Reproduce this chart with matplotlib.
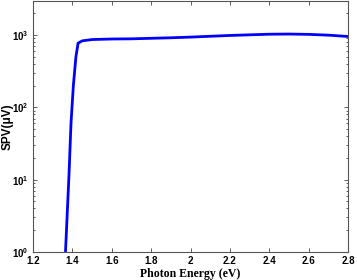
import matplotlib
matplotlib.use("Agg")
import matplotlib.pyplot as plt
from matplotlib.ticker import LogLocator, NullFormatter

energy = [1.365, 1.373, 1.383, 1.393, 1.405, 1.418, 1.429, 1.45, 1.5, 1.6, 1.7, 1.8, 1.9, 2.0, 2.1, 2.2, 2.3, 2.4, 2.5, 2.6, 2.7, 2.8]
spv = [1.0, 3.0, 12.0, 60.0, 200.0, 500.0, 771.0, 830.0, 865.0, 880.0, 885.0, 900.0, 915.0, 935.0, 960.0, 985.0, 1005.0, 1025.0, 1030.0, 1020.0, 995.0, 953.0]
xticks = [1.2, 1.4, 1.6, 1.8, 2, 2.2, 2.4, 2.6, 2.8]
xtick_labels = ["1.2", "1.4", "1.6", "1.8", "2", "2.2", "2.4", "2.6", "2.8"]

fig = plt.figure(figsize=(3.57, 2.80), dpi=100)
ax = fig.add_axes([33/357, 28/280, 315/357, 251/280])
ax.plot(energy, spv, color=(0, 0, 1), lw=2.0, solid_capstyle="butt")
ax.set_yscale("log")
ax.set_xlim(1.2, 2.8)
ax.set_ylim(1, 2950)
ax.set_xticks(xticks)
ax.set_xticklabels(xtick_labels)
ax.yaxis.set_major_locator(LogLocator(base=10, numticks=10))
ax.yaxis.set_minor_locator(LogLocator(base=10, subs=range(2, 10), numticks=20))
ax.yaxis.set_minor_formatter(NullFormatter())
ax.tick_params(which="both", direction="in", top=True, right=True, labelsize=7, width=0.6, colors="#444444", labelcolor="black", pad=3)
ax.tick_params(which="major", length=3)
ax.tick_params(which="minor", length=1.5)
for lab in ax.get_xticklabels() + ax.get_yticklabels():
    lab.set_fontfamily("Liberation Sans")
    lab.set_fontweight("bold")
for s in ax.spines.values():
    s.set_linewidth(0.8)
    s.set_color("#555555")
ax.set_xlabel("Photon Energy (eV)", fontfamily="Liberation Serif", fontweight="bold", fontsize=8.5, va="center")
ax.xaxis.set_label_coords(0.5, -0.088)
ax.set_ylabel("SPV(μV)", fontfamily="Liberation Sans", fontweight="bold", fontsize=8.5, va="center")
ax.yaxis.set_label_coords(-0.082, 0.50)
fig.savefig("out.png", dpi=100)
